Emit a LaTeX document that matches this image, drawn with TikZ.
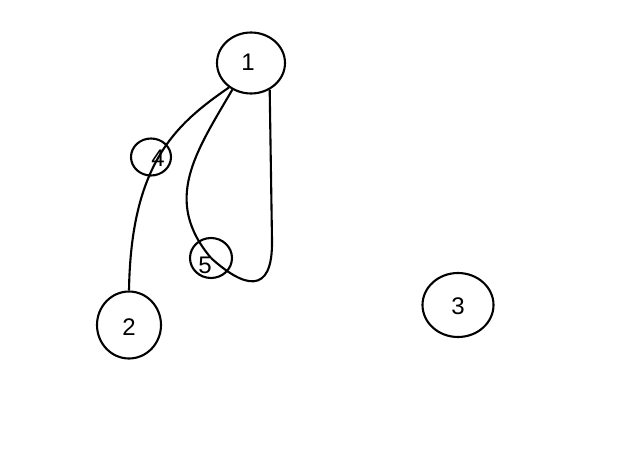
\documentclass[tikz,border=0pt]{standalone}
\usepackage{fontspec}
\setmainfont{Liberation Sans}
\usetikzlibrary{shapes.geometric}
\newcommand{\lblsize}{\fontsize{24pt}{24pt}\selectfont}
\begin{document}
\begin{tikzpicture}[x=1pt,y=-1pt,
  vert/.style={ellipse,draw,line width=2.1pt,inner sep=0pt},
  lbl/.style={inner sep=0pt},
  edge/.style={line width=2.1pt}]
\useasboundingbox (0,0) rectangle (620,465);
\node[vert,minimum width=68pt,minimum height=61pt] (1) at (251,63) {};
\node[vert,minimum width=64pt,minimum height=67pt] (2) at (129,325) {};
\node[vert,minimum width=71pt,minimum height=64pt] (3) at (458,305) {};
\node[vert,minimum width=40pt,minimum height=37pt] (4) at (151,157) {};
\node[vert,minimum width=42pt,minimum height=40pt] (5) at (211,258) {};
\node[lbl] (l1) at (248,62) {\lblsize 1};
\node[lbl] (l2) at (129,327) {\lblsize 2};
\node[lbl] (l3) at (458,306) {\lblsize 3};
\node[lbl] (l4) at (158,158) {\lblsize 4};
\node[lbl] (l5) at (205,265) {\lblsize 5};
\draw[edge] (1.-132) .. controls (176,124) and (131,163) .. (2.north);
\draw[edge] (1.-125) .. controls (196,152) and (162,200) .. (5.center);
\draw[edge] (5.center) .. controls (243,287) and (273,297) .. (272,240) -- (1.-55);
\end{tikzpicture}
\end{document}
